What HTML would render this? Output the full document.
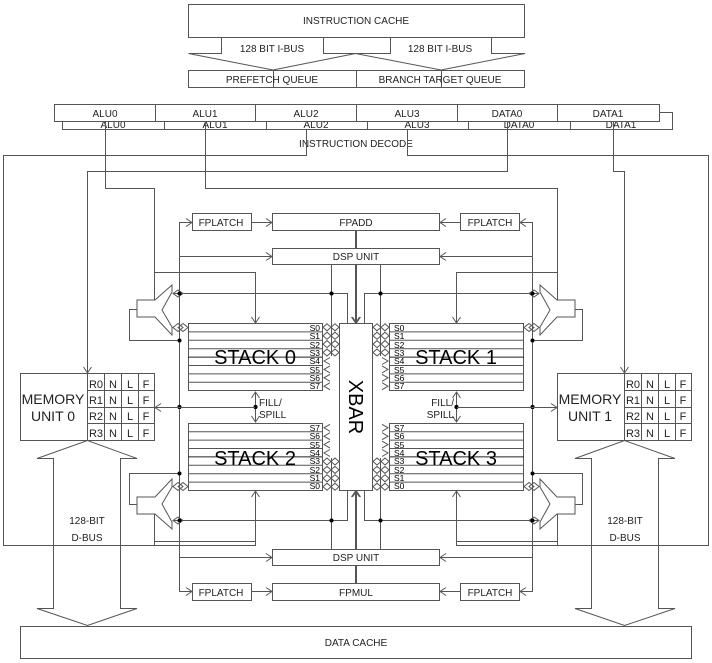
<!DOCTYPE html>
<html><head><meta charset="utf-8"><style>
html,body{margin:0;padding:0;background:#fff;}
svg{display:block;font-family:"Liberation Sans",Arial,sans-serif;}
</style></head><body>
<svg width="712" height="663" viewBox="0 0 712 663" xmlns="http://www.w3.org/2000/svg">
<defs>
<g id="q" stroke="#555" fill="none" stroke-width="1">
  <rect x="192.5" y="213.5" width="59" height="17" fill="#fff"/>
  <rect x="272.5" y="213.5" width="167" height="17"/>
  <rect x="272.5" y="248.5" width="167" height="16"/>
  <rect x="339.5" y="323.5" width="33" height="167"/>
  <rect x="188.5" y="323.5" width="134" height="67"/>
  <path d="M188 331.9H322M188 340.3H322M188 348.7H322M188 365.5H322M188 373.9H322M188 382.3H322"/>
  <path d="M188 357.1H322" stroke="#222"/>
  <path d="M179.5 222V407M179.5 222.5H192M186 218.5l6 4-6 4M251 222.5H272M266 218.5l6 4-6 4M179.5 256.5H272M266 252.5l6 4-6 4"/>
  <path d="M356.5 230V248M356.5 264V323M352.5 317l4 6 4-6M331.5 264V356M174 293.5H347.5V323"/>
  <path d="M154.5 272V310M150.5 304l4 6 4-6M154.5 272.5H255.5V323M251.5 317l4 6 4-6"/>
  <path d="M172 285L155 300H137V317H155L172 335V327L162 310L172 292Z" fill="#fff"/>
  <path d="M137 309.5H129.5V340.5H179.5"/>
  <path d="M255.5 392V407M251.5 398l4-6 4 6"/>
  <path d="M173 293.5l5-3.5 5 3.5-5 3.5zM173 327.5l5-4 5 4-5 4zM178 327.5l5-4 5 4-5 4z"/>
  <path d="M323 327.3l4-3.5 4 3.5-4 3.5zM331 327.3l4-3.5 4 3.5-4 3.5z
           M323 335.7l4-3.5 4 3.5-4 3.5zM331 335.7l4-3.5 4 3.5-4 3.5z
           M323 344.1l4-3.5 4 3.5-4 3.5zM331 344.1l4-3.5 4 3.5-4 3.5z
           M323 352.5l4-3.5 4 3.5-4 3.5zM331 352.5l4-3.5 4 3.5-4 3.5z"/>
  <path d="M330 357.5l-6 3.5 6 3.5M330 365.9l-6 3.5 6 3.5M330 374.3l-6 3.5 6 3.5M330 382.7l-6 3.5 6 3.5"/>
  <g fill="#000" stroke="none">
    <circle cx="179.5" cy="293.5" r="2"/><circle cx="331.5" cy="293.5" r="2"/>
    <circle cx="179.5" cy="340.5" r="2"/><circle cx="179.5" cy="407" r="2"/><circle cx="255.5" cy="407" r="2"/>
  </g>
</g>
<g id="h"><use href="#q"/><use href="#q" transform="translate(712,0) scale(-1,1)"/></g>
</defs>
<use href="#h"/>
<use href="#h" transform="translate(0,814) scale(1,-1)"/>

<g stroke="#555" fill="none" stroke-width="1">
  <rect x="188.5" y="4.5" width="336" height="33"/>
  <path d="M221.5 37V53.5H188.5L273 70L355.5 53.5L441 70L525 53.5H491.5V37M323.5 37V53.5H390.5V37"/>
  <rect x="188.5" y="70.5" width="168" height="17"/>
  <rect x="356.5" y="70.5" width="168" height="17"/>
  <path d="M273.5 70V87M441.5 70V87"/>
  <path d="M62.5 121V129.5H672.5V112.5H659M164.5 121V129M266.5 121V129M367.5 121V129M468.5 121V129M570.5 121V129"/>
</g>
<g font-size="10" text-anchor="middle" fill="#222">
  <text x="356" y="24">INSTRUCTION CACHE</text>
  <text x="272" y="52">128 BIT I-BUS</text>
  <text x="440" y="52">128 BIT I-BUS</text>
  <text x="272" y="83">PREFETCH QUEUE</text>
  <text x="440" y="83">BRANCH TARGET QUEUE</text>
  <text x="113" y="128">ALU0</text><text x="215" y="128">ALU1</text><text x="316" y="128">ALU2</text>
  <text x="417" y="128">ALU3</text><text x="519" y="128">DATA0</text><text x="621" y="128">DATA1</text>
</g>
<g stroke="#555" fill="#fff">
  <rect x="54.5" y="104.5" width="101" height="17"/><rect x="155.5" y="104.5" width="100" height="17"/>
  <rect x="255.5" y="104.5" width="101" height="17"/><rect x="356.5" y="104.5" width="101" height="17"/>
  <rect x="457.5" y="104.5" width="100" height="17"/><rect x="557.5" y="104.5" width="102" height="17"/>
</g>
<g font-size="10" text-anchor="middle" fill="#222">
  <text x="105" y="117">ALU0</text><text x="205" y="117">ALU1</text><text x="306" y="117">ALU2</text>
  <text x="407" y="117">ALU3</text><text x="507" y="117">DATA0</text><text x="608" y="117">DATA1</text>
  <text x="356" y="147">INSTRUCTION DECODE</text>
</g>
<g stroke="#555" fill="none" stroke-width="1">
  <path d="M306.5 129V155.5H3.5V545.5H255.5V541M154.5 545V541"/>
  <path d="M407.5 129V155.5H708.5V545.5H456.5V541M557.5 545V541"/>
  <path d="M105.5 121V188.5H154.5V272M205.5 121V188.5H557.5V272"/>
  <path d="M507.5 121V171.5H87.5V373M83.5 367l4 6 4-6M613.5 121V171.5H624.5V373M620.5 367l4 6 4-6"/>
  <path d="M155 407.5H255M161 403.5l-6 4 6 4M457 407.5H557M551 403.5l6 4-6 4"/>
  <rect x="20.5" y="373.5" width="134" height="67" fill="#fff"/>
  <path d="M87.5 373V440M104.5 373V440M121.5 373V440M138.5 373V440M87 390.5H154M87 407.5H154M87 423.5H154"/>
  <rect x="557.5" y="373.5" width="134" height="67" fill="#fff"/>
  <path d="M624.5 373V440M641.5 373V440M658.5 373V440M675.5 373V440M624 390.5H691M624 407.5H691M624 423.5H691"/>
  <path d="M53.5 458.5H37L87.5 440.5L137 458.5H120.5V608.5H137L87.5 625.5L37 608.5H53.5Z"/>
  <path d="M658.5 458.5H675L624.5 440.5L575 458.5H591.5V608.5H575L624.5 625.5L675 608.5H658.5Z"/>
  <rect x="20.5" y="626.5" width="671" height="32"/>
</g>
<g font-size="10" text-anchor="middle" fill="#222">
  <text x="221" y="226">FPLATCH</text><text x="356" y="226">FPADD</text><text x="490" y="226">FPLATCH</text>
  <text x="356" y="260">DSP UNIT</text>
  <text x="356" y="561">DSP UNIT</text>
  <text x="221" y="596">FPLATCH</text><text x="356" y="596">FPMUL</text><text x="490" y="596">FPLATCH</text>
  <text x="87" y="524">128-BIT</text><text x="87" y="541">D-BUS</text>
  <text x="625" y="524">128-BIT</text><text x="625" y="541">D-BUS</text>
  <text x="356" y="646">DATA CACHE</text>
</g>
<g font-size="10" text-anchor="start" fill="#222">
  <text x="259" y="406">FILL/</text><text x="259" y="418">SPILL</text>
</g>
<g font-size="10" text-anchor="end" fill="#222">
  <text x="454" y="406">FILL/</text><text x="454" y="418">SPILL</text>
</g>
<g font-size="11" text-anchor="middle" fill="#222">
  <text x="96" y="388">R0</text><text x="113" y="388">N</text><text x="130" y="388">L</text><text x="146" y="388">F</text>
  <text x="96" y="404">R1</text><text x="113" y="404">N</text><text x="130" y="404">L</text><text x="146" y="404">F</text>
  <text x="96" y="420">R2</text><text x="113" y="420">N</text><text x="130" y="420">L</text><text x="146" y="420">F</text>
  <text x="96" y="437">R3</text><text x="113" y="437">N</text><text x="130" y="437">L</text><text x="146" y="437">F</text>
  <text x="633" y="388">R0</text><text x="650" y="388">N</text><text x="667" y="388">L</text><text x="683" y="388">F</text>
  <text x="633" y="404">R1</text><text x="650" y="404">N</text><text x="667" y="404">L</text><text x="683" y="404">F</text>
  <text x="633" y="420">R2</text><text x="650" y="420">N</text><text x="667" y="420">L</text><text x="683" y="420">F</text>
  <text x="633" y="437">R3</text><text x="650" y="437">N</text><text x="667" y="437">L</text><text x="683" y="437">F</text>
</g>
<g font-size="14" text-anchor="middle" fill="#222">
  <text x="53" y="404">MEMORY</text><text x="53" y="421">UNIT 0</text>
  <text x="590" y="404">MEMORY</text><text x="590" y="421">UNIT 1</text>
</g>
<g font-size="20" text-anchor="middle" fill="#000">
  <text x="255" y="364">STACK 0</text><text x="456" y="364">STACK 1</text>
  <text x="255" y="465">STACK 2</text><text x="456" y="465">STACK 3</text>
  <text x="0" y="0" transform="translate(349,407) rotate(90)">XBAR</text>
</g>
<g font-size="8.5" fill="#000" text-anchor="end">
  <text x="320" y="331">S0</text><text x="320" y="339">S1</text><text x="320" y="348">S2</text><text x="320" y="356">S3</text>
  <text x="320" y="364">S4</text><text x="320" y="373">S5</text><text x="320" y="381">S6</text><text x="320" y="389">S7</text>
  <text x="320" y="431">S7</text><text x="320" y="439">S6</text><text x="320" y="448">S5</text><text x="320" y="456">S4</text>
  <text x="320" y="464">S3</text><text x="320" y="473">S2</text><text x="320" y="481">S1</text><text x="320" y="489">S0</text>
</g>
<g font-size="8.5" fill="#000" text-anchor="start">
  <text x="394" y="331">S0</text><text x="394" y="339">S1</text><text x="394" y="348">S2</text><text x="394" y="356">S3</text>
  <text x="394" y="364">S4</text><text x="394" y="373">S5</text><text x="394" y="381">S6</text><text x="394" y="389">S7</text>
  <text x="394" y="431">S7</text><text x="394" y="439">S6</text><text x="394" y="448">S5</text><text x="394" y="456">S4</text>
  <text x="394" y="464">S3</text><text x="394" y="473">S2</text><text x="394" y="481">S1</text><text x="394" y="489">S0</text>
</g>
</svg>
</body></html>
